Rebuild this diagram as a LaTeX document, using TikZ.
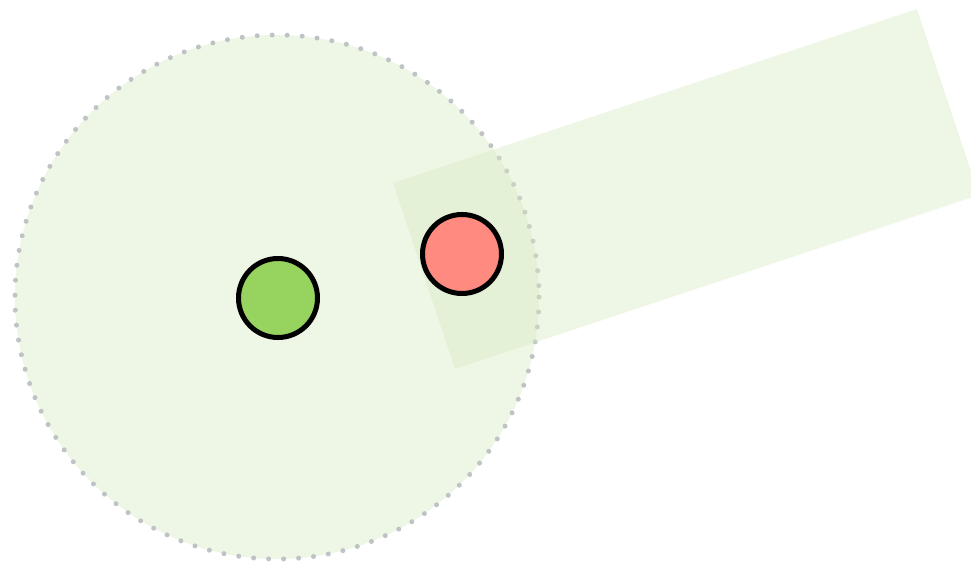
\documentclass[tikz,border=0pt]{standalone}
\definecolor{zonefill}{RGB}{213,233,193}
\definecolor{dotgray}{RGB}{190,195,197}
\definecolor{greenball}{RGB}{151,211,95}
\definecolor{redball}{RGB}{255,138,128}
\tikzset{
  zone/.style={fill=zonefill, fill opacity=0.4, draw=none},
  ball/.style={circle, draw=black, line width=5pt, minimum size=79pt, inner sep=0pt},
}
\begin{document}
\begin{tikzpicture}[x=1pt,y=-1pt]
\useasboundingbox (0,0) rectangle (971,564);
\clip (0,0) rectangle (971,564);
\fill[zone] (277,297) circle (262);
\draw[dotgray, line width=5pt, line cap=round, dash pattern=on 0pt off 15pt] (277,297) circle (262);
\fill[zone] (393,183) -- (917,9) -- (979,195) -- (455,369) -- cycle;
\node[ball, fill=greenball] (g) at (278,298) {};
\node[ball, fill=redball] (r) at (462,254) {};
\end{tikzpicture}
\end{document}
